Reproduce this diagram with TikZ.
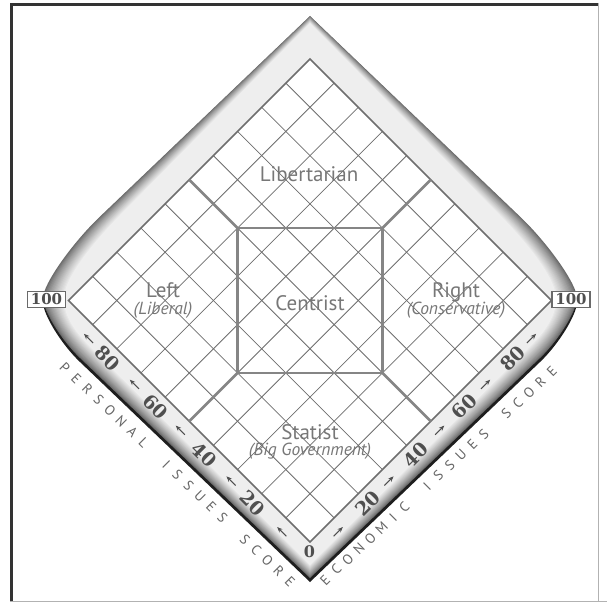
\documentclass[tikz,border=0pt]{standalone}
\usepackage{fontspec}
\setmainfont{PT Sans}
\newfontfamily\numfont{DejaVu Serif}
\usetikzlibrary{calc,arrows.meta}
\definecolor{gridc}{HTML}{6E6E6E}
\definecolor{thickc}{HTML}{858585}
\definecolor{labc}{HTML}{777777}
\definecolor{numc}{HTML}{4F4F4F}
\definecolor{lightc}{HTML}{EEEEEE}
\definecolor{edgec}{HTML}{6A6A6A}
\definecolor{shadowc}{HTML}{1E1E1E}
\definecolor{framec}{HTML}{333333}
\definecolor{outc}{HTML}{666666}
\tikzset{
 gridline/.style={draw=gridc, line width=0.8},
 rim/.style={draw=gridc, line width=1.6},
 region/.style={draw=thickc, line width=2.6},
 lab/.style={text=labc, font=\fontsize{21}{21}\selectfont, inner sep=0, anchor=base},
 sublab/.style={text=labc, font=\fontsize{17.5}{17.5}\selectfont\itshape, inner sep=0, anchor=base},
 num/.style={text=numc, font=\fontsize{19}{19}\selectfont\numfont\bfseries, inner sep=0},
 arr/.style={draw=numc, line width=0.9, -{Stealth[length=5.5pt,width=4.5pt]}},
 box/.style={draw=edgec, line width=1.6, fill=white, text=numc, font=\fontsize{15}{15}\selectfont\numfont\bfseries, minimum width=38, minimum height=16, inner sep=0},
 outlet/.style={text=outc, font=\fontsize{14}{14}\selectfont, inner sep=0},
}
\newcommand{\bandp}[1]{($(oA)!#1!(mA)$) -- ($(oUl)!#1!(mUl)$) .. controls ($(oC1l)!#1!(mC1l)$) and ($(oC2l)!#1!(mC2l)$) .. ($(oWl)!#1!(mWl)$) .. controls ($(oC3l)!#1!(mC3l)$) and ($(oC4l)!#1!(mC4l)$) .. ($(oDl)!#1!(mDl)$) -- ($(oB)!#1!(mB)$) -- ($(oDr)!#1!(mDr)$) .. controls ($(oC4r)!#1!(mC4r)$) and ($(oC3r)!#1!(mC3r)$) .. ($(oWr)!#1!(mWr)$) .. controls ($(oC2r)!#1!(mC2r)$) and ($(oC1r)!#1!(mC1r)$) .. ($(oUr)!#1!(mUr)$) -- cycle}
\begin{document}
\begin{tikzpicture}[x=1pt,y=-1pt]
\useasboundingbox (0,0) rectangle (607,602);
\fill[white] (0,0) rectangle (607,602);
% frame
\fill[framec] (10,3) rectangle (13,602);
\fill[framec] (10,3) rectangle (598,6.5);
\draw[gray!60, line width=1] (10,601.5) -- (607,601.5);
\draw[gray!60, line width=1] (598,3) -- (598,602);
% band outer points
\coordinate (oA) at (310,16);
\coordinate (oUl) at (100,216.6);
\coordinate (oC1l) at (71.5,243.8);
\coordinate (oC2l) at (43,284.5);
\coordinate (oWl) at (43,298);
\coordinate (oC3l) at (43,310.5);
\coordinate (oC4l) at (61.5,340.5);
\coordinate (oDl) at (80,358);
\coordinate (oB) at (310,578);
\coordinate (oUr) at (520,216.6);
\coordinate (oC1r) at (548.5,243.8);
\coordinate (oC2r) at (577,284.5);
\coordinate (oWr) at (577,298);
\coordinate (oC3r) at (577,310.5);
\coordinate (oC4r) at (558.5,340.5);
\coordinate (oDr) at (540,358);
% band inner light boundary
\coordinate (mA) at (310,23);
\coordinate (mUl) at (120,215);
\coordinate (mC1l) at (102.5,232.8);
\coordinate (mC2l) at (64,275);
\coordinate (mWl) at (64,298);
\coordinate (mC3l) at (63,320);
\coordinate (mC4l) at (82,339);
\coordinate (mDl) at (95,352);
\coordinate (mB) at (310,565);
\coordinate (mUr) at (500,215);
\coordinate (mC1r) at (517.5,232.8);
\coordinate (mC2r) at (556,275);
\coordinate (mWr) at (556,298);
\coordinate (mC3r) at (557,320);
\coordinate (mC4r) at (538,339);
\coordinate (mDr) at (525,352);
% shadow
\begin{scope}[transform canvas={yshift=-4pt}]
\fill[shadowc] \bandp{0};
\end{scope}
% gradient band
\foreach \k in {0,...,16}{
  \pgfmathsetmacro\t{\k/16}
  \pgfmathtruncatemacro\c{100*(\k/16)^0.8}
  \fill[lightc!\c!edgec] \bandp{\t};
}
% diamond
\begin{scope}[shift={(310,542)}, x={(2.415pt,2.415pt)}, y={(-2.415pt,2.415pt)}]
\fill[white] (0,0) -- (100,0) -- (100,100) -- (0,100) -- cycle;
\foreach \i in {10,20,...,90}{
  \draw[gridline] (\i,0) -- (\i,100);
  \draw[gridline] (0,\i) -- (100,\i);
}
\draw[rim] (0,0) -- (100,0) -- (100,100) -- (0,100) -- cycle;
\draw[region] (50,20) -- (80,50) -- (50,80) -- (20,50) -- cycle;
\draw[region] (50,80) -- (50,100);
\draw[region] (80,50) -- (100,50);
\draw[region] (50,20) -- (50,0);
\draw[region] (20,50) -- (0,50);
% numbers
\foreach \v in {20,40,60,80}{
  \node[num, rotate=-45] (p\v) at (-3.9,\v) {\v};
  \node[num, rotate=45] (e\v) at (\v,-3.9) {\v};
}
\foreach \v in {8,29,50,69,88}{
  \draw[arr] (-3.7,\v-1.9) -- (-3.7,\v+1.9);
  \draw[arr] (\v-1.9,-3.7) -- (\v+1.9,-3.7);
}
\end{scope}
\node[num, font=\fontsize{16}{16}\selectfont\numfont\bfseries] (zero) at (309.5,552) {0};
\node[box] (l100) at (46.5,299.5) {100};
\node[box] (r100) at (571,299.5) {100};
% labels
\node[lab] (lib) at (309,181) {Libertarian};
\node[lab] (cen) at (310,310) {Centrist};
\node[lab] (left) at (163,297) {Left};
\node[sublab] (lib2) at (163,314) {(Liberal)};
\node[lab] (right) at (456,297) {Right};
\node[sublab] (cons) at (456,314) {(Conservative)};
\node[lab] (stat) at (310,439) {Statist};
\node[sublab] (big) at (310,455) {(Big Government)};
% axis titles
\coordinate (ps) at (65,368);
\coordinate (pe) at (290,582);
\coordinate (es) at (325,580);
\coordinate (ee) at (551.7,371.7);
\foreach \ch [count=\i from 0] in {P,E,R,S,O,N,A,L,{},I,S,S,U,E,S,{},S,C,O,R,E}{
  \node[outlet, rotate=-45] (pt\i) at ($(ps)!\i/20!(pe)$) {\ch};
}
\foreach \ch [count=\i from 0] in {E,C,O,N,O,M,I,C,{},I,S,S,U,E,S,{},S,C,O,R,E}{
  \node[outlet, rotate=45] (et\i) at ($(es)!\i/20!(ee)$) {\ch};
}
\end{tikzpicture}
\end{document}
